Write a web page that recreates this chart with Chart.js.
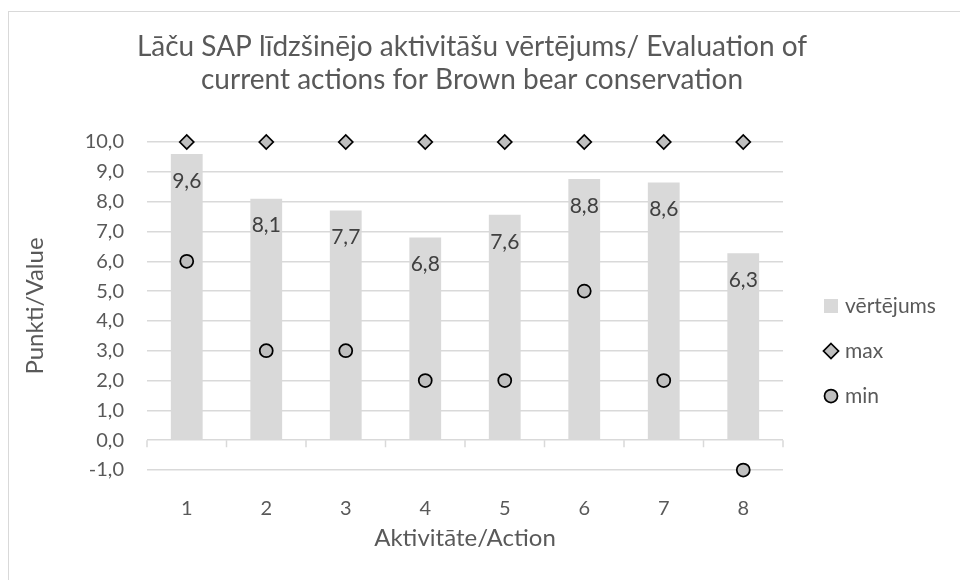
<!DOCTYPE html>
<html>
<head>
<meta charset="utf-8">
<script src="https://cdn.jsdelivr.net/npm/chart.js@4.4.0/dist/chart.umd.min.js"></script>
<style>
  html, body { margin: 0; padding: 0; background: #fff; }
  #wrap { position: relative; width: 960px; height: 580px; overflow: hidden; }
  #frame { position: absolute; left: 8px; top: 11px; width: 1000px; height: 700px; border: 1px solid #d9d9d9; }
  canvas { position: absolute; left: 0; top: 0; }
</style>
</head>
<body>
<div id="wrap">
  <div id="frame"></div>
  <canvas id="chart" width="960" height="580"></canvas>
</div>
<script>
// data
const actions = ['1', '2', '3', '4', '5', '6', '7', '8'];
const evaluation = [9.6, 8.1, 7.7, 6.8, 7.56, 8.76, 8.64, 6.27];
const maxScore = [10, 10, 10, 10, 10, 10, 10, 10];
const minScore = [6, 3, 3, 2, 2, 5, 2, -1];
const yMin = -1;
const yMax = 10;

const titleLines = [
  'Lāču SAP līdzšinējo aktivitāšu vērtējums/ Evaluation of',
  'current actions for Brown bear conservation'
];

const GRID = '#d9d9d9';
const TEXT = '#595959';
const MARKER = '#bfbfbf';

const fmt = v => v.toFixed(1).replace('.', ',');

Chart.defaults.font.family = 'Lato, "Open Sans", sans-serif';
Chart.defaults.color = TEXT;

// axis line at 0 with tick marks between categories (Excel style)
const zeroAxis = {
  id: 'zeroAxis',
  beforeDatasetsDraw(chart) {
    const { ctx, chartArea, scales } = chart;
    const y0 = scales.y.getPixelForValue(0);
    const n = actions.length;
    ctx.save();
    ctx.strokeStyle = GRID;
    ctx.lineWidth = 1.5;
    ctx.beginPath();
    for (let i = 0; i <= n; i++) {
      const x = chartArea.left + i * chartArea.width / n;
      ctx.moveTo(x, y0);
      ctx.lineTo(x, y0 + 7);
    }
    ctx.stroke();
    ctx.restore();
  }
};

// value labels inside the bar tops
const barLabels = {
  id: 'barLabels',
  afterDatasetsDraw(chart) {
    const { ctx } = chart;
    const meta = chart.getDatasetMeta(0);
    ctx.save();
    ctx.fillStyle = '#404040';
    ctx.font = '21px ' + Chart.defaults.font.family;
    ctx.textAlign = 'center';
    ctx.textBaseline = 'middle';
    meta.data.forEach((bar, i) => {
      ctx.fillText(fmt(evaluation[i]), bar.x, bar.y + 27);
    });
    ctx.restore();
  }
};

function drawMarker(ctx, style, x, y, r) {
  ctx.beginPath();
  if (style === 'rectRot') {
    ctx.moveTo(x, y - r);
    ctx.lineTo(x + r, y);
    ctx.lineTo(x, y + r);
    ctx.lineTo(x - r, y);
    ctx.closePath();
  } else {
    ctx.arc(x, y, r, 0, Math.PI * 2);
  }
  ctx.fillStyle = MARKER;
  ctx.fill();
  ctx.lineWidth = 1.75;
  ctx.strokeStyle = '#000';
  ctx.stroke();
}

// legend on the right, drawn like Excel's
const sideLegend = {
  id: 'sideLegend',
  afterDraw(chart) {
    const { ctx, chartArea } = chart;
    const x = chartArea.right + 48;
    const top = 306;
    const step = 45;
    ctx.save();
    ctx.font = '21px ' + Chart.defaults.font.family;
    ctx.textBaseline = 'middle';
    ctx.textAlign = 'left';
    chart.data.datasets.forEach((ds, i) => {
      const y = top + i * step;
      if (i === 0) {
        ctx.fillStyle = GRID;
        ctx.fillRect(x - 7, y - 7, 14, 14);
      } else {
        drawMarker(ctx, ds.pointStyle, x, y, ds.pointStyle === 'rectRot' ? 7.5 : 6.5);
      }
      ctx.fillStyle = TEXT;
      ctx.fillText(ds.label, x + 14, y);
    });
    ctx.restore();
  }
};

new Chart(document.getElementById('chart'), {
  type: 'bar',
  data: {
    labels: actions,
    datasets: [
      {
        label: 'vērtējums',
        data: evaluation,
        backgroundColor: GRID,
        barPercentage: 0.4,
        categoryPercentage: 1,
        order: 3
      },
      {
        type: 'line',
        label: 'max',
        data: maxScore,
        showLine: false,
        clip: false,
        pointStyle: 'rectRot',
        pointRadius: 7,
        pointBackgroundColor: MARKER,
        pointBorderColor: '#000',
        pointBorderWidth: 1.75,
        order: 2
      },
      {
        type: 'line',
        label: 'min',
        data: minScore,
        showLine: false,
        clip: false,
        pointStyle: 'circle',
        pointRadius: 6.5,
        pointBackgroundColor: MARKER,
        pointBorderColor: '#000',
        pointBorderWidth: 1.75,
        order: 1
      }
    ]
  },
  options: {
    responsive: false,
    animation: false,
    layout: { padding: { left: 0, right: 16, top: 0, bottom: 0 } },
    plugins: {
      legend: { display: false },
      tooltip: { enabled: false },
      title: {
        display: true,
        text: titleLines,
        color: TEXT,
        font: { size: 28, weight: 'normal', lineHeight: 1.2 },
        padding: { top: 30, bottom: 44.8 }
      }
    },
    scales: {
      x: {
        grid: { display: false },
        border: { display: false },
        ticks: { font: { size: 20 }, padding: 19 },
        title: {
          display: true,
          text: 'Aktivitāte/Action',
          font: { size: 24 },
          padding: { top: 0, bottom: 27.6 }
        },
        afterFit: s => { s.height = 110; }
      },
      y: {
        min: yMin,
        max: yMax,
        ticks: { stepSize: 1, font: { size: 20 }, padding: 23, callback: v => fmt(v) },
        grid: { color: GRID, lineWidth: 1.5, drawTicks: false },
        border: { display: false },
        title: {
          display: true,
          text: 'Punkti/Value',
          font: { size: 24 },
          padding: { top: 21, bottom: 0 }
        },
        afterFit: s => { s.width = 147; }
      },
      legendSpace: {
        type: 'linear',
        position: 'right',
        grid: { display: false },
        border: { display: false },
        ticks: { display: false },
        afterFit: s => { s.width = 161; }
      }
    }
  },
  plugins: [zeroAxis, barLabels, sideLegend]
});
</script>
</body>
</html>
